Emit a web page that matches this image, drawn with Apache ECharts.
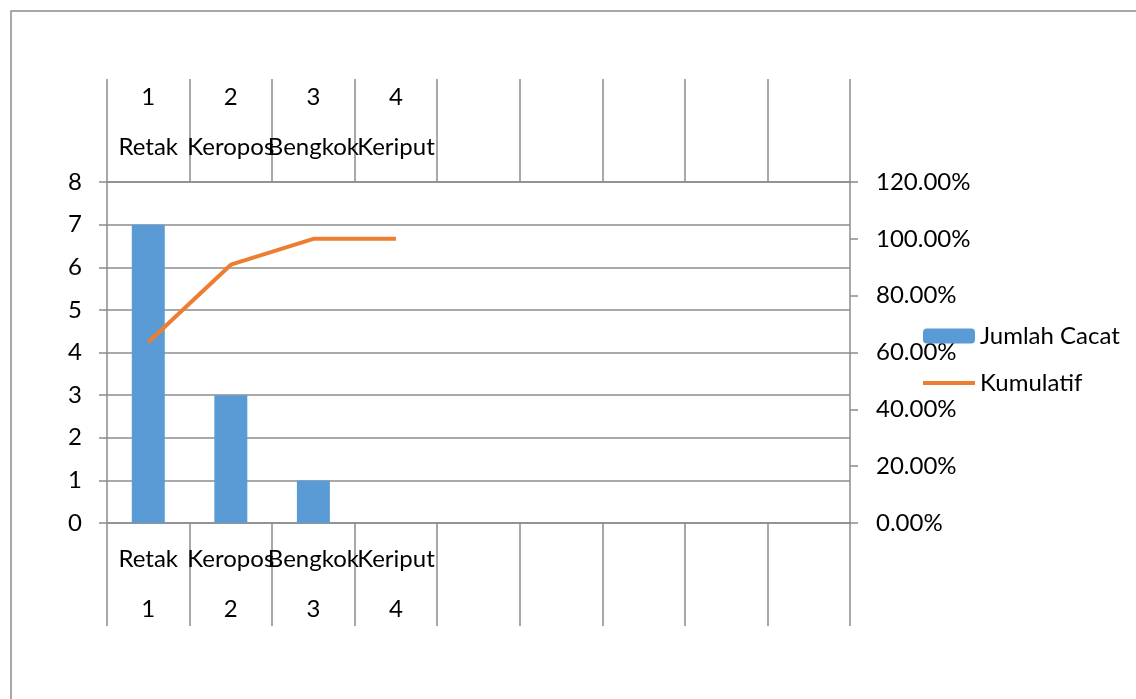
<!DOCTYPE html>
<html>
<head>
<meta charset="utf-8">
<script src="https://cdn.jsdelivr.net/npm/echarts@6/dist/echarts.min.js"></script>
<style>
html, body { margin: 0; padding: 0; background: #fff; }
#chart { width: 1136px; height: 699px; }
</style>
</head>
<body>
<div id="chart"></div>
<script>
// kategori cacat (9 slot, hanya 4 terisi)
var categories = ['Retak', 'Keropos', 'Bengkok', 'Keriput', '', '', '', '', ''];
var nomor = ['1', '2', '3', '4', '', '', '', '', ''];
var jumlahCacat = [7, 3, 1, 0];
var kumulatif = [0.636, 0.909, 1.0, 1.0];
var leftTicks = [0, 8, 1];
var rightTicks = [0, 1.2, 0.2];

var gray = '#8c8c8c';
var font = 'Lato';
var fs = 24;

var myChart = echarts.init(document.getElementById('chart'));
var option = {
	animation: false,
	textStyle: { fontFamily: font },
	graphic: [{
		type: 'rect',
		shape: { x: 11, y: 11, width: 1300, height: 900 },
		style: { fill: 'none', stroke: gray, lineWidth: 1.5 }
	}],
	legend: {
		orient: 'vertical',
		left: 916,
		top: 319,
		itemWidth: 52,
		itemHeight: 15,
		itemGap: 23,
		textStyle: { fontSize: fs, color: '#000', fontFamily: font },
		data: [
			'Jumlah Cacat',
			{ name: 'Kumulatif', itemStyle: { opacity: 0 }, lineStyle: { width: 4 } }
		]
	},
	grid: {
		left: 107,
		right: 286,
		top: 182,
		bottom: 176,
		containLabel: false
	},
	xAxis: [
		{
			type: 'category',
			position: 'bottom',
			data: categories,
			axisLine: { onZero: false, lineStyle: { color: gray, width: 1.5 } },
			axisTick: { show: true, inside: false, length: 103, lineStyle: { color: gray, width: 1.5 } },
			axisLabel: {
				interval: 0,
				margin: 11,
				color: '#000',
				fontSize: fs,
				lineHeight: 50,
				formatter: function (v, i) { return v + '\n' + nomor[i]; }
			}
		},
		{
			type: 'category',
			position: 'top',
			data: categories,
			axisLine: { onZero: false, lineStyle: { color: gray, width: 1.5 } },
			axisTick: { show: true, inside: false, length: 103, lineStyle: { color: gray, width: 1.5 } },
			axisLabel: {
				interval: 0,
				margin: 10,
				color: '#000',
				fontSize: fs,
				lineHeight: 50,
				formatter: function (v, i) { return nomor[i] + '\n' + v; }
			}
		}
	],
	yAxis: [
		{
			type: 'value',
			min: leftTicks[0],
			max: leftTicks[1],
			interval: leftTicks[2],
			axisLine: { show: true, onZero: false, lineStyle: { color: gray, width: 1.5 } },
			axisTick: { show: true, length: 8, lineStyle: { color: gray, width: 1.5 } },
			axisLabel: { margin: 25, color: '#000', fontSize: fs },
			splitLine: { lineStyle: { color: gray, width: 1.5 } }
		},
		{
			type: 'value',
			min: rightTicks[0],
			max: rightTicks[1],
			interval: rightTicks[2],
			position: 'right',
			axisLine: { show: true, onZero: false, lineStyle: { color: gray, width: 1.5 } },
			axisTick: { show: true, length: 8, lineStyle: { color: gray, width: 1.5 } },
			axisLabel: {
				margin: 26,
				color: '#000',
				fontSize: fs,
				formatter: function (v) { return (v * 100).toFixed(2) + '%'; }
			},
			splitLine: { show: false }
		}
	],
	series: [
		{
			name: 'Jumlah Cacat',
			type: 'bar',
			barWidth: 33,
			itemStyle: { color: '#5b9bd5' },
			data: jumlahCacat
		},
		{
			name: 'Kumulatif',
			type: 'line',
			yAxisIndex: 1,
			symbol: 'none',
			lineStyle: { color: '#ed7d31', width: 4 },
			itemStyle: { color: '#ed7d31' },
			data: kumulatif
		}
	]
};
myChart.setOption(option);
</script>
</body>
</html>
